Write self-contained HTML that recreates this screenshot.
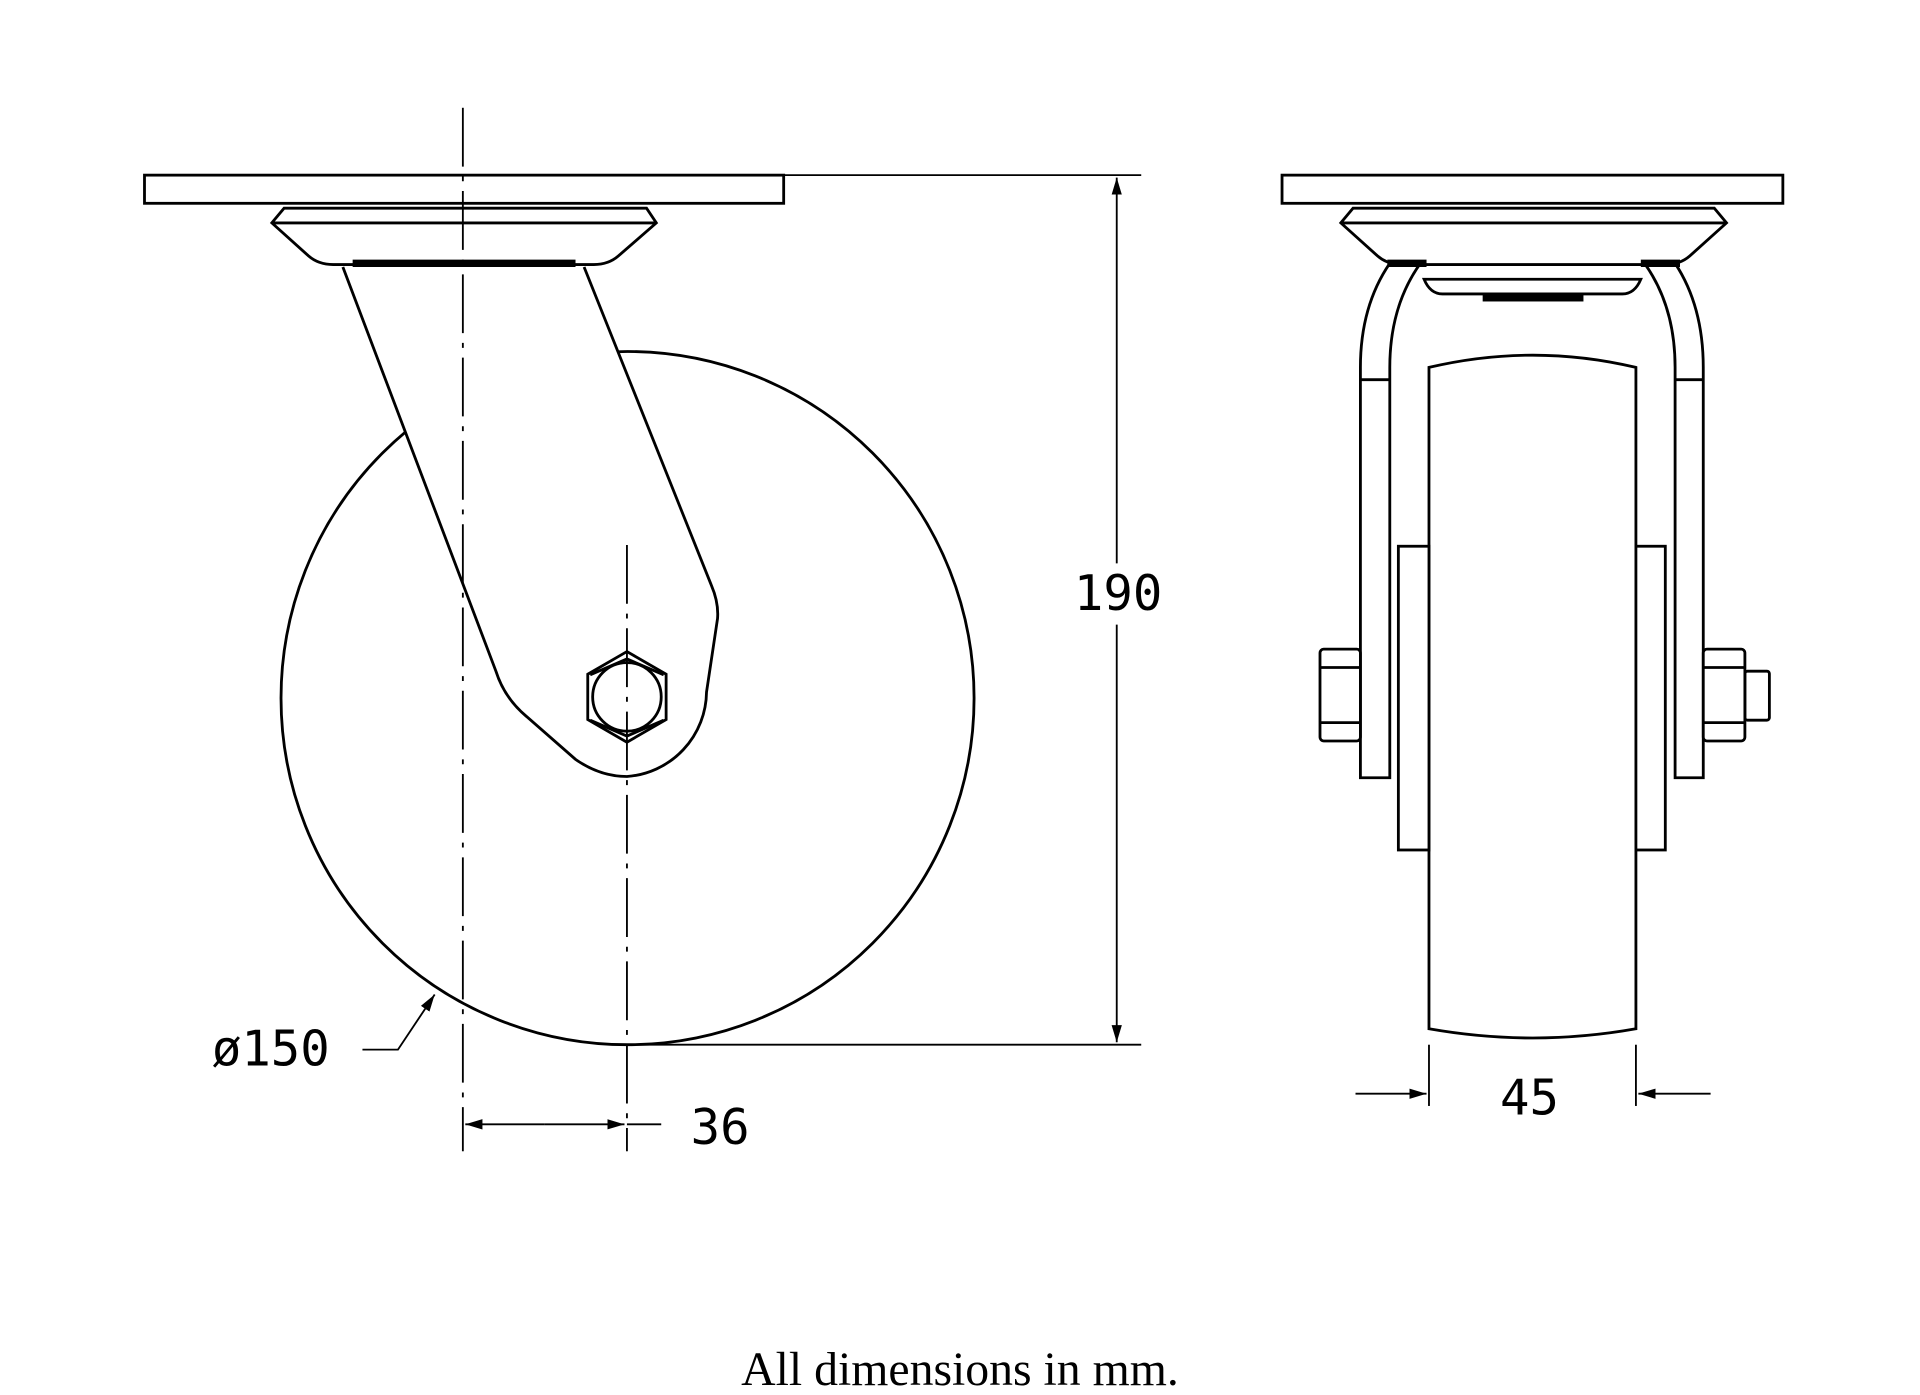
<!DOCTYPE html>
<html><head><meta charset="utf-8"><style>html,body{margin:0;padding:0;background:#fff}svg{display:block}</style></head>
<body>
<svg width="1920" height="1395" viewBox="0 0 1568 1139" preserveAspectRatio="none" xmlns="http://www.w3.org/2000/svg">
<defs>
<marker id="ar" viewBox="0 0 10 10" refX="10" refY="5" markerWidth="14" markerHeight="14" markerUnits="userSpaceOnUse" orient="auto"><path d="M0,2 L10,5 L0,8 Z" fill="#000"/></marker>
</defs>
<g fill="none" stroke="#000" stroke-width="2.3">
<!-- LEFT VIEW -->
<line x1="640" y1="143" x2="932" y2="143" stroke-width="1.5"/>
<circle cx="512.5" cy="570" r="283"/>
<rect x="118" y="143" width="522" height="23" fill="#fff"/>
<path d="M232,170 L528,170 L536,182 L505,209 Q497,216 485,216 L272,216 Q260,216 252,209 L222,182 Z" fill="#fff"/>
<line x1="222" y1="182" x2="536" y2="182"/>
<path d="M280,218 L405,548 Q412,570 430,585 L470,620 Q490,634 512,634 A70 70 0 0 0 577,565 L586,505 Q587,492 581,478 L477,218" fill="#fff"/>
<line x1="288" y1="215" x2="470" y2="215" stroke-width="6"/>
<polygon points="512,532 544,550.5 544,587.5 512,606 480,587.5 480,550.5" fill="#fff"/>
<polyline points="482,551 512,538 542,551"/>
<polyline points="482,588 512,601 542,588"/>
<circle cx="512" cy="569" r="28"/>
<line x1="378" y1="88" x2="378" y2="940" stroke-width="1.5" stroke-dasharray="48,8,4,8"/>
<line x1="512" y1="445" x2="512" y2="940" stroke-width="1.5" stroke-dasharray="48,8,4,8"/>
<line x1="512" y1="853" x2="932" y2="853" stroke-width="1.5"/>
<line x1="912" y1="460" x2="912" y2="145" stroke-width="1.5" marker-end="url(#ar)"/>
<line x1="912" y1="510" x2="912" y2="851" stroke-width="1.5" marker-end="url(#ar)"/>
<line x1="445" y1="918" x2="380" y2="918" stroke-width="1.5" marker-end="url(#ar)"/>
<line x1="445" y1="918" x2="510" y2="918" stroke-width="1.5" marker-end="url(#ar)"/>
<line x1="512" y1="918" x2="540" y2="918" stroke-width="1.5"/>
<polyline points="296,857 325,857 355,812" stroke-width="1.5" marker-end="url(#ar)"/>
<!-- RIGHT VIEW -->
<rect x="1047" y="143" width="409" height="23"/>
<path d="M1105,170 L1400,170 L1410,182 L1380,209 Q1372,216 1360,216 L1145,216 Q1133,216 1125,209 L1095,182 Z" fill="#fff"/>
<line x1="1095" y1="182" x2="1410" y2="182"/>
<path d="M1111,635 L1111,300 Q1111,250 1135,215 L1160,215 Q1135,250 1135,300 L1135,635 Z" fill="#fff"/>
<path d="M1391,635 L1391,300 Q1391,250 1368,215 L1343,215 Q1368,250 1368,300 L1368,635 Z" fill="#fff"/>
<line x1="1111" y1="310" x2="1135" y2="310"/>
<line x1="1368" y1="310" x2="1391" y2="310"/>
<path d="M1163,228 L1340,228 Q1335,240 1325,240 L1178,240 Q1168,240 1163,228 Z"/>
<rect x="1212" y="240" width="80" height="5" fill="#000"/>
<line x1="1133" y1="215" x2="1165" y2="215" stroke-width="6"/>
<line x1="1340" y1="215" x2="1372" y2="215" stroke-width="6"/>
<path d="M1167,300 Q1252,280 1336,300 L1336,840 Q1252,855 1167,840 Z" fill="#fff"/>
<rect x="1142" y="446" width="25" height="248" fill="#fff"/>
<rect x="1336" y="446" width="24" height="248" fill="#fff"/>
<rect x="1078" y="530" width="33" height="75" rx="3" fill="#fff"/>
<line x1="1078" y1="545" x2="1111" y2="545"/><line x1="1078" y1="590" x2="1111" y2="590"/>
<rect x="1391" y="530" width="34" height="75" rx="3" fill="#fff"/>
<line x1="1391" y1="545" x2="1425" y2="545"/><line x1="1391" y1="590" x2="1425" y2="590"/>
<rect x="1425" y="548" width="20" height="40" rx="2"/>
<line x1="1167" y1="853" x2="1167" y2="903" stroke-width="1.5"/>
<line x1="1336" y1="853" x2="1336" y2="903" stroke-width="1.5"/>
<line x1="1107" y1="893" x2="1165" y2="893" stroke-width="1.5" marker-end="url(#ar)"/>
<line x1="1397" y1="893" x2="1338" y2="893" stroke-width="1.5" marker-end="url(#ar)"/>
</g>
<g font-family="'DejaVu Sans Mono','Liberation Mono',monospace" font-size="40" fill="#000">
<text x="877" y="498">190</text>
<text x="173" y="870">ø150</text>
<text x="564" y="934">36</text>
<text x="1225" y="910">45</text>
</g>
<text x="784" y="1131" text-anchor="middle" font-family="'Liberation Serif',serif" font-size="39" fill="#000">All dimensions in mm.</text>
</svg>
</body></html>
